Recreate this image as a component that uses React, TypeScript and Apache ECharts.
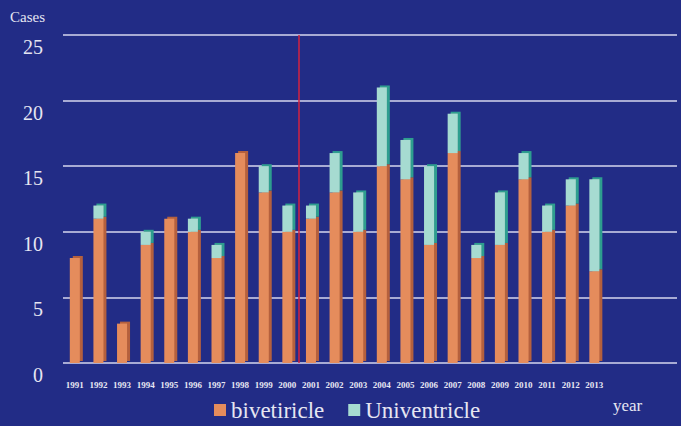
import React, { useEffect, useRef } from "react";
import * as echarts from "echarts";

const years = ["1991","1992","1993","1994","1995","1996","1997","1998","1999","2000","2001","2002","2003","2004","2005","2006","2007","2008","2009","2010","2011","2012","2013"];
const bivetiricle = [8,11,3,9,11,10,8,16,13,10,11,13,10,15,14,9,16,8,9,14,10,12,7];
const univentricle = [0,1,0,1,0,1,1,0,2,2,1,3,3,6,3,6,3,1,4,2,2,2,7];
const yTicks = [0, 5, 10, 15, 20, 25];
const dividerPosition = 9.5; // between 2000 and 2001

const BG = "#222c86";
const ORANGE = "#e58c5c";
const ORANGE_SIDE = "#b5613c";
const TEAL = "#a6dbd1";
const TEAL_SIDE = "#2f9e8f";
const TEXT = "#e6e6f2";
const SERIF = "Liberation Serif, Times New Roman, serif";

export default function App() {
  const ref = useRef<HTMLDivElement>(null);
  useEffect(() => {
    if (!ref.current) return;
    const chart = echarts.init(ref.current, null, { renderer: "svg" });
    const bands = years.length + 3;
    chart.setOption({
      animation: false,
      backgroundColor: BG,
      textStyle: { fontFamily: SERIF },
      grid: { left: 63, right: 4, top: 35, bottom: 63, containLabel: false },
      xAxis: [
        {
          type: "category",
          data: years,
          max: bands - 1,
          boundaryGap: true,
          axisLine: { show: false },
          axisTick: { show: false },
          axisLabel: {
            color: TEXT,
            fontFamily: SERIF,
            fontWeight: "bold",
            fontSize: 9,
            margin: 17,
            interval: 0,
            formatter: (v: string) => (v == null || v === "undefined" ? "" : v),
          },
        },
        {
          type: "value",
          show: false,
          min: -0.5,
          max: bands - 0.5,
          splitLine: { show: false },
        },
      ],
      yAxis: {
        type: "value",
        min: yTicks[0],
        max: yTicks[yTicks.length - 1],
        interval: 5,
        axisLine: { show: false },
        axisTick: { show: false },
        axisLabel: {
          color: TEXT,
          fontFamily: SERIF,
          fontSize: 20,
          margin: 20,
          verticalAlign: "top",
          padding: [2, 0, 0, 0],
        },
        splitLine: { lineStyle: { color: "#d6d6ee", width: 1.5 } },
      },
      legend: {
        left: 214,
        top: 397,
        padding: 0,
        itemWidth: 12,
        itemHeight: 12,
        itemGap: 24,
        icon: "rect",
        textStyle: { color: TEXT, fontFamily: SERIF, fontSize: 23, lineHeight: 26 },
        data: ["bivetiricle", "Univentricle"],
      },
      graphic: [
        { type: "text", left: 10, top: 9, style: { text: "Cases", fill: TEXT, font: `15px ${SERIF}` } },
        { type: "text", left: 613, top: 397, style: { text: "year", fill: TEXT, font: `17px ${SERIF}` } },
      ],
      series: [
        {
          name: "bivetiricle",
          type: "bar",
          stack: "total",
          barWidth: 10,
          data: bivetiricle,
          itemStyle: {
            color: ORANGE,
            shadowColor: ORANGE_SIDE,
            shadowBlur: 0,
            shadowOffsetX: 3,
            shadowOffsetY: -2,
          },
        },
        {
          name: "Univentricle",
          type: "bar",
          stack: "total",
          barWidth: 10,
          data: univentricle,
          itemStyle: {
            color: TEAL,
            shadowColor: TEAL_SIDE,
            shadowBlur: 0,
            shadowOffsetX: 3,
            shadowOffsetY: -2,
          },
        },
        {
          name: "divider",
          type: "line",
          xAxisIndex: 1,
          data: [],
          markLine: {
            silent: true,
            symbol: "none",
            label: { show: false },
            lineStyle: { color: "#d4223f", width: 1.5, type: "solid" },
            data: [{ xAxis: dividerPosition }],
          },
        },
      ],
    });
    return () => chart.dispose();
  }, []);
  return <div ref={ref} style={{ position: "fixed", left: 0, top: 0, width: 681, height: 426 }} />;
}
